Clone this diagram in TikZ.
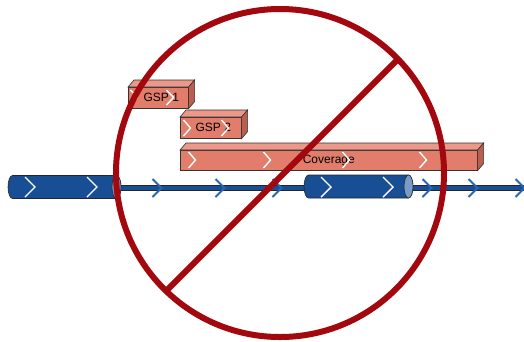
\documentclass[tikz,border=0pt]{standalone}
\usepackage{fontspec}
\setmainfont{Liberation Sans}
\usepackage{tikz}
\definecolor{exonblue}{RGB}{24,78,148}
\definecolor{capblue}{RGB}{120,155,200}
\definecolor{arrowblue}{RGB}{38,102,178}
\definecolor{salmon}{RGB}{226,125,108}
\definecolor{salmontop}{RGB}{236,152,137}
\definecolor{salmonside}{RGB}{188,94,78}
\definecolor{banred}{RGB}{162,8,14}
\tikzset{
  primer/.style={draw=black!80, line width=0.6pt, fill=salmon, minimum height=21,
    inner sep=0pt, anchor=north west, font=\fontsize{12}{14}\selectfont},
  primertop/.style={draw=black!80, line width=0.6pt, fill=salmontop},
  primerside/.style={draw=black!80, line width=0.6pt, fill=salmonside},
  exon/.style={minimum height=23, minimum width=#1, inner sep=0pt, outer sep=0pt},
  exonbody/.style={draw=black!85, line width=0.6pt, fill=exonblue},
  exoncap/.style={draw=black!85, line width=0.6pt, fill=capblue},
  intron/.style={draw=black!85, line width=0.6pt, fill=exonblue, minimum height=5.5,
    inner sep=0pt, anchor=west},
  whitechev/.style={white, line width=1.4pt},
  bluechev/.style={arrowblue, line width=1.8pt},
  ban/.style={circle, draw=banred, line width=6pt, outer sep=0pt, inner sep=0pt}
}
% Quader: Deckflaeche und Seitenflaeche an einen Knoten setzen
\newcommand\quader[1]{%
  \draw[primertop] (#1.north west) -- ++(6,-7) -- ([shift={(6,-7)}]#1.north east)
    -- (#1.north east) -- cycle;
  \draw[primerside] (#1.north east) -- ([shift={(6,-7)}]#1.north east)
    -- ([shift={(6,-7)}]#1.south east) -- (#1.south east) -- cycle;
}
% Zylinder: runde Enden um einen Knoten
\newcommand\zylinder[1]{%
  \draw[exonbody] ([xshift=4.5]#1.north west)
    arc[start angle=270, end angle=90, x radius=4.5, y radius=11.5]
    -- ([xshift=-4.5]#1.south east)
    arc[start angle=90, end angle=-90, x radius=4.5, y radius=11.5] -- cycle;
  \draw[exoncap] ([xshift=-4.5]#1.east) ellipse[x radius=4.5, y radius=11.5];
}

\begin{document}
\begin{tikzpicture}[x=1pt, y=-1pt]
\useasboundingbox (0,0) rectangle (524,341);

%Gen
\node[intron, minimum width=425] (intron) at (110,188) {};
\node[exon=113] (exon1) at (64.5,187) {};
\zylinder{exon1}
\node[exon=109] (exon2) at (358.5,186.5) {};
\zylinder{exon2}
\foreach \x in {157,220,277,427,473,520}
  \draw[bluechev] (\x-4.5,179) -- (\x+4.5,188) -- (\x-4.5,197);
\foreach \x in {30,92,326,388}
  \draw[whitechev] (\x-5,177) -- (\x+5,187) -- (\x-5,197);

%Primer
\node[primer, minimum width=60] (gsp1) at (128,87) {\hspace*{6pt}GSP 1};
\quader{gsp1}
\node[primer, minimum width=61] (gsp2) at (180,117) {\hspace*{5pt}GSP 2};
\quader{gsp2}
\node[primer, minimum width=297, minimum height=20] (cov) at (180,150) {Coverage};
\quader{cov}
\foreach \x in {134,170}
  \draw[whitechev] (\x-3.5,90) -- (\x+3.5,97.5) -- (\x-3.5,105);
\foreach \x in {187,225}
  \draw[whitechev] (\x-3.5,120) -- (\x+3.5,128) -- (\x-3.5,136);
\foreach \x in {192,267,346,423}
  \draw[whitechev] (\x-3.5,152) -- (\x+3.5,160) -- (\x-3.5,168);

%Verbotsschild
\node[ban, minimum size=328] (ban) at (280,173) {};
\draw[banred, line width=6pt] (ban.226) -- (ban.44);

\end{tikzpicture}
\end{document}
